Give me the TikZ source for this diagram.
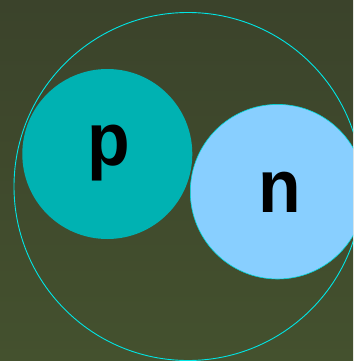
\documentclass[tikz,border=0pt]{standalone}
\usepackage{fontspec}
\setmainfont{Liberation Sans}
\usepackage{xcolor}
\usetikzlibrary{positioning}

\definecolor{bgtop}{RGB}{59,67,43}
\definecolor{bgbot}{RGB}{68,81,46}
\definecolor{protonfill}{RGB}{0,178,178}
\definecolor{neutronfill}{RGB}{136,207,255}
\definecolor{rimcyan}{RGB}{0,230,230}

\begin{document}
\begin{tikzpicture}[
x=1pt,y=-1pt,
shell/.style={draw=rimcyan, line width=0.9pt},
nucleon/.style={circle, inner sep=0pt, minimum size=#1},
label/.style={font=\bfseries\fontsize{75}{75}\selectfont, anchor=base, inner sep=0pt, xscale=0.93}
]
\shade[top color=bgtop, bottom color=bgbot] (0,0) rectangle (353,361);
\useasboundingbox (0,0) rectangle (353,361);

\begin{scope}
\clip (0,0) rectangle (353,361);
\node[shell, circle, inner sep=0pt, minimum size=348pt] (nucleus) at (188,186.5) {};
\node[nucleon=170pt, fill=protonfill] (proton) at (107.3,154) {};
\node[nucleon=174.6pt, fill=neutronfill, draw=rimcyan!70!protonfill, line width=0.6pt] (neutron) at (277.6,191.7) {};
\end{scope}

\node[label] (ptext) at (109,165.7) {p};
\node[label] (ntext) at (279.3,212.3) {n};
\end{tikzpicture}
\end{document}
